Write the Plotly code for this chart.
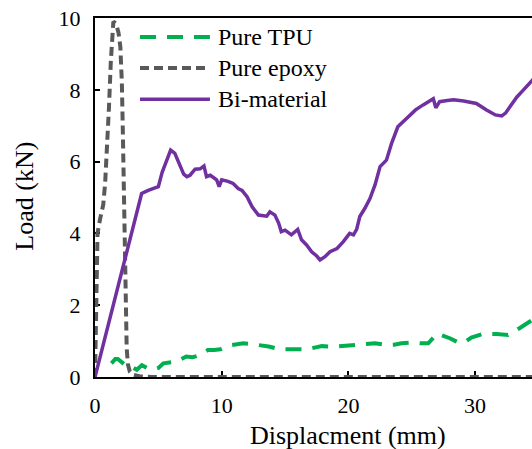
import plotly.graph_objects as go

# Pure TPU
tpu_x = [1.3, 1.6, 1.8, 2.1, 2.5, 2.9, 3.3, 3.7, 4.1, 4.6, 5.0, 5.4, 5.9, 6.45, 7.2, 7.7, 8.3,
         8.9, 9.4, 9.9, 10.8, 11.2, 11.7, 12.5, 13.1, 13.7, 14.6, 15.2, 15.8, 16.7, 17.3, 17.9,
         18.8, 19.4, 20.0, 20.8, 21.4, 22.1, 23.0, 23.6, 24.2, 25.1, 25.7, 26.3, 27.0, 27.5,
         28.0, 28.8, 29.3, 29.7, 30.6, 31.2, 31.7, 32.6, 33.0, 33.5, 34.5, 35.0]
tpu_y = [0.38, 0.5, 0.5, 0.4, 0.3, 0.28, 0.2, 0.33, 0.25, 0.2, 0.25, 0.38, 0.4, 0.43, 0.57,
         0.55, 0.61, 0.75, 0.75, 0.77, 0.89, 0.92, 0.94, 0.91, 0.88, 0.85, 0.77, 0.78, 0.77,
         0.77, 0.82, 0.86, 0.84, 0.86, 0.89, 0.91, 0.92, 0.94, 0.89, 0.9, 0.94, 0.96, 0.94,
         0.94, 1.21, 1.15, 1.08, 0.94, 1.0, 1.1, 1.2, 1.2, 1.2, 1.17, 1.25, 1.36, 1.59, 1.7]

# Pure epoxy
epoxy_x = [0, 0.05, 0.12, 0.2, 0.4, 0.65, 0.8, 0.95, 1.1, 1.25, 1.45, 1.65, 1.85, 2.0, 2.12,
           2.2, 2.27, 2.33, 2.4, 2.5, 2.6, 2.75, 3.0, 3.5, 4.5, 10, 20, 30, 35]
epoxy_y = [0, 1.5, 3.0, 4.0, 4.4, 4.8, 5.4, 6.3, 7.5, 8.8, 9.9, 9.85, 9.6, 9.2, 8.2,
           6.8, 5.0, 3.2, 1.8, 0.8, 0.35, 0.15, 0.06, 0.02, 0, 0, 0, 0, 0]

# Bi-material
bi_x = [0, 3.68, 4.2, 5.0, 5.3, 5.6, 5.97, 6.3, 6.7, 7.0, 7.25, 7.5, 7.9, 8.3, 8.6, 8.8, 9.1,
        9.6, 9.8, 10.0, 10.5, 10.9, 11.3, 11.6, 12.0, 12.4, 12.9, 13.55, 13.8, 14.2, 14.5,
        14.7, 15.0, 15.5, 16.0, 16.3, 16.7, 17.1, 17.5, 17.76, 18.15, 18.55, 19.1, 19.6,
        20.1, 20.4, 20.65, 20.9, 21.3, 21.7, 22.1, 22.5, 23.0, 23.4, 23.9, 24.6, 25.3,
        25.9, 26.4, 26.7, 26.9, 27.2, 27.8, 28.3, 29.1, 30.1, 30.9, 31.6, 32.1, 32.4,
        32.75, 33.3, 33.8, 34.5, 35.0]
bi_y = [0, 5.11, 5.2, 5.3, 5.7, 6.0, 6.32, 6.23, 5.86, 5.65, 5.58, 5.62, 5.79, 5.8, 5.88,
        5.58, 5.62, 5.49, 5.3, 5.49, 5.45, 5.39, 5.25, 5.2, 5.02, 4.74, 4.51, 4.48, 4.6,
        4.51, 4.28, 4.05, 4.09, 3.96, 4.11, 3.82, 3.68, 3.49, 3.37, 3.26, 3.35, 3.49, 3.58,
        3.77, 4.0, 3.96, 4.11, 4.47, 4.7, 4.97, 5.35, 5.86, 6.04, 6.5, 6.97, 7.2, 7.44,
        7.58, 7.67, 7.75, 7.5, 7.67, 7.7, 7.72, 7.69, 7.62, 7.44, 7.3, 7.27, 7.35, 7.53,
        7.8, 7.99, 8.27, 8.45]

x_ticks = [0, 10, 20, 30]
y_ticks = [0, 2, 4, 6, 8, 10]

names = ["Pure TPU", "Pure epoxy", "Bi-material"]
colors = ["#00B050", "#595959", "#7030A0"]
dashes = ["16px,11px", "9px,5px", "solid"]
widths = [4, 4, 3.5]

FONT = "Liberation Serif"

fig = go.Figure()
for xs, ys, n, c, d, w in zip([tpu_x, epoxy_x, bi_x], [tpu_y, epoxy_y, bi_y],
                               names, colors, dashes, widths):
    fig.add_trace(go.Scatter(x=xs, y=ys, mode="lines", name=n,
                             line=dict(color=c, width=w, dash=d), showlegend=False))

# manual legend
leg_y = [0.947, 0.861, 0.774]
for n, c, d, w, yy in zip(names, colors, dashes, widths, leg_y):
    fig.add_shape(type="line", xref="paper", yref="paper", x0=0.103, x1=0.263,
                  y0=yy, y1=yy, line=dict(color=c, width=w, dash=d))
    fig.add_annotation(text=n, xref="paper", yref="paper", x=0.277, y=yy,
                       xanchor="left", yanchor="middle", showarrow=False,
                       font=dict(family=FONT, size=24, color="black"))

fig.add_annotation(text="Displacment (mm)", xref="x", yref="paper", x=20, y=-0.162,
                   xanchor="center", yanchor="middle", showarrow=False,
                   font=dict(family=FONT, size=26, color="black"))
fig.add_annotation(text="Load (kN)", xref="paper", yref="paper", x=-0.162, y=0.503,
                   xanchor="center", yanchor="middle", showarrow=False, textangle=-90,
                   font=dict(family=FONT, size=26, color="black"))

fig.update_layout(
    width=532, height=449,
    margin=dict(l=95, r=0, t=18, b=72),
    paper_bgcolor="white", plot_bgcolor="white",
    font=dict(family=FONT, size=22, color="black"),
    xaxis=dict(range=[0, 34.49], tickvals=x_ticks, ticks="inside", ticklen=6, tickwidth=1.5,
               tickcolor="black", showline=True, linecolor="black", linewidth=2, mirror=True,
               showgrid=False, zeroline=False, layer="below traces", ticklabelstandoff=8,
               tickfont=dict(family=FONT, size=22, color="black")),
    yaxis=dict(range=[0, 10], tickvals=y_ticks, ticks="inside", ticklen=5, tickwidth=1.5,
               tickcolor="black", showline=True, linecolor="black", linewidth=2,
               showgrid=False, zeroline=False, layer="below traces", ticklabelstandoff=8,
               tickfont=dict(family=FONT, size=22, color="black")),
)

fig.write_html("out.html", config={"displayModeBar": False},
               post_script="document.body.style.margin='0';document.body.style.overflow='hidden';")
